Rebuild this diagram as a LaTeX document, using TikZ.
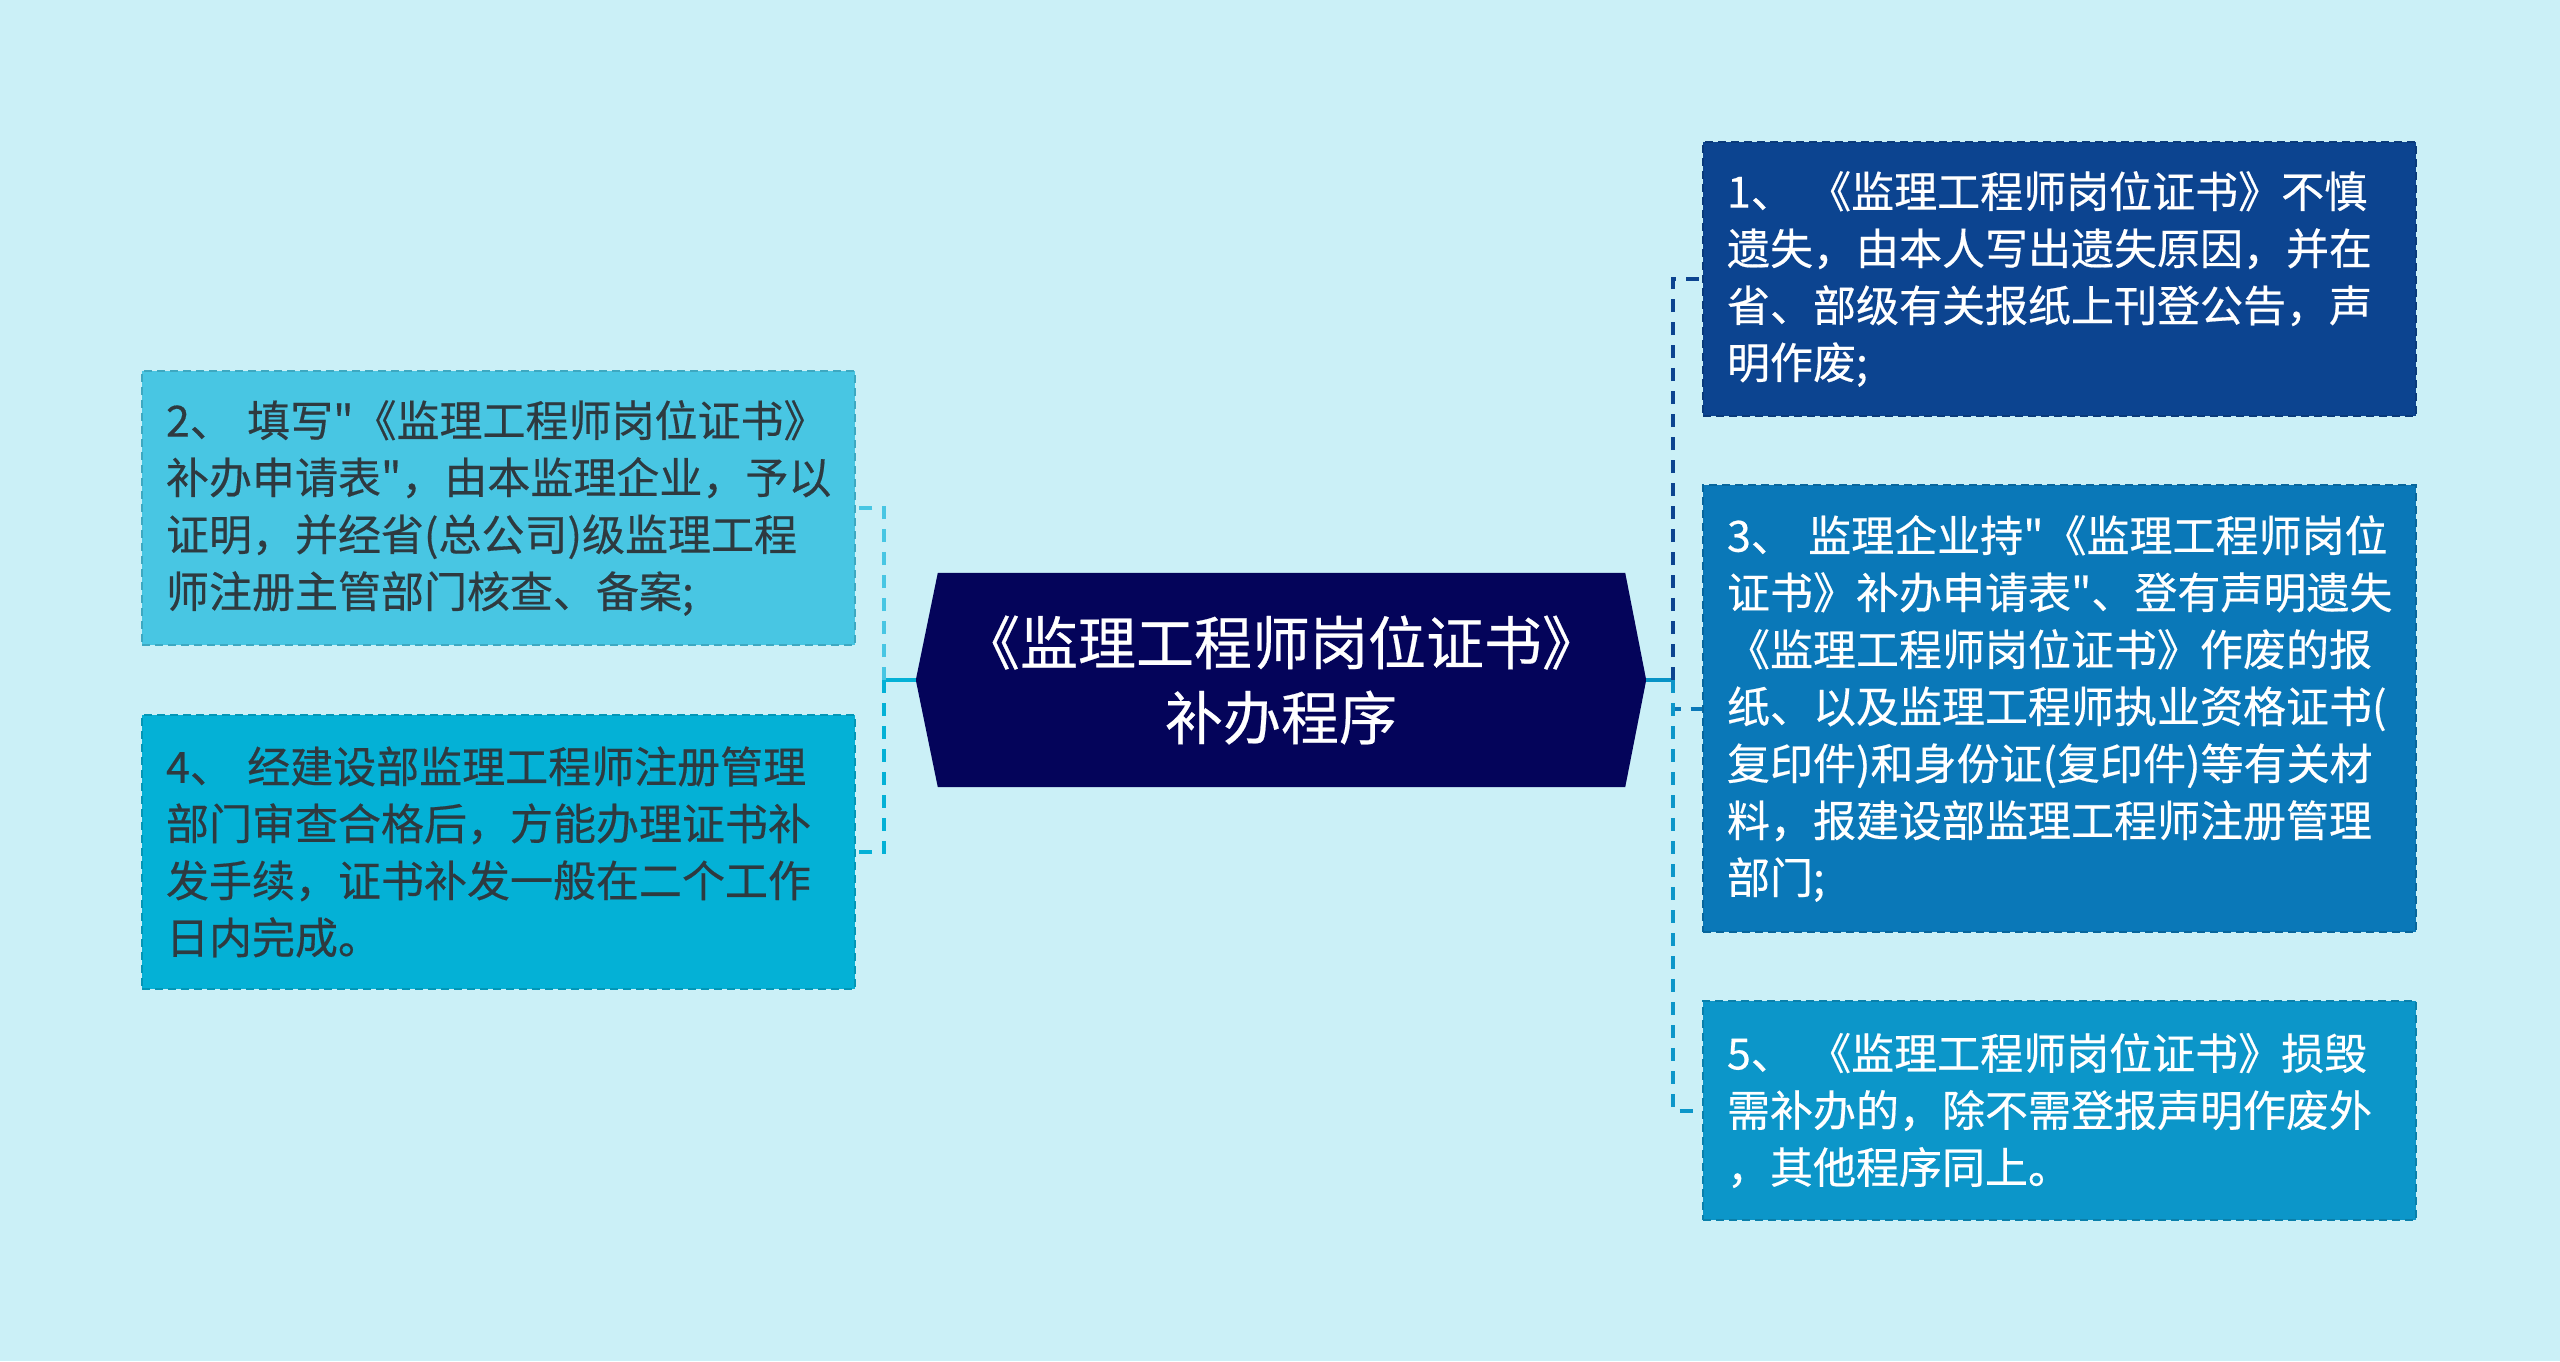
\documentclass[tikz,border=0pt]{standalone}
\usepackage{fontspec}
\newfontfamily\cjk[FakeBold=0.4]{Noto Sans CJK SC}
\definecolor{bg}{HTML}{CBF0F7}
\definecolor{hub}{HTML}{04045A}
\definecolor{cA}{HTML}{0C4490}
\definecolor{cB}{HTML}{0A78B8}
\definecolor{cC}{HTML}{0C96C9}
\definecolor{cL1}{HTML}{48C6E3}
\definecolor{cL2}{HTML}{04B1D6}
\definecolor{dtext}{HTML}{2E3A40}
\pgfdeclarelayer{bgl}
\pgfsetlayers{bgl,main}
\begin{document}
\begin{tikzpicture}[x=1pt,y=-1pt,
  box/.style={rectangle, inner xsep=24pt, inner ysep=0pt, text width=665pt,
    align=left, font=\cjk\fontsize{43}{57}\selectfont,
    dash pattern=on 8pt off 5pt, line width=2pt},
  hubtext/.style={rectangle, inner sep=0pt, minimum width=730pt, minimum height=214pt,
    align=center, text=white, font=\cjk\fontsize{58}{75}\selectfont},
  conn/.style={line width=4pt, dash pattern=on 13pt off 10pt},
  stem/.style={line width=4pt}
]
% central node
\node[hubtext] (c) at (1281,680) {《监理工程师岗位证书》\\补办程序};
\begin{pgfonlayer}{bgl}
\fill[bg] (0,0) rectangle (2560,1361);
\fill[hub] (c.west) -- ([xshift=22pt]c.north west) -- ([xshift=-21pt]c.north east)
  -- (c.east) -- ([xshift=-21pt]c.south east) -- ([xshift=22pt]c.south west) -- cycle;
\end{pgfonlayer}

% right boxes
\node[box, fill=cA, draw=cA!85!black, text=white, minimum height=274pt] (b1) at (2059.5,279)
 {1、~《监理工程师岗位证书》不慎\\遗失，由本人写出遗失原因，并在\\省、部级有关报纸上刊登公告，声\\明作废;};
\node[box, fill=cB, draw=cB!85!black, text=white, minimum height=447pt] (b3) at (2059.5,708.5)
 {3、~监理企业持"《监理工程师岗位\\证书》补办申请表"、登有声明遗失\\《监理工程师岗位证书》作废的报\\纸、以及监理工程师执业资格证书(\\复印件)和身份证(复印件)等有关材\\料，报建设部监理工程师注册管理\\部门;};
\node[box, fill=cC, draw=cC!85!black, text=white, minimum height=219pt] (b5) at (2059.5,1110.5)
 {5、~《监理工程师岗位证书》损毁\\需补办的，除不需登报声明作废外\\，其他程序同上。};

% left boxes
\node[box, fill=cL1, draw=cL1!85!black, text=dtext, minimum height=274pt] (b2) at (498.5,508)
 {2、~填写"《监理工程师岗位证书》\\补办申请表"，由本监理企业，予以\\证明，并经省(总公司)级监理工程\\师注册主管部门核查、备案;};
\node[box, fill=cL2, draw=cL2!85!black, text=dtext, minimum height=274pt] (b4) at (498.5,852)
 {4、~经建设部监理工程师注册管理\\部门审查合格后，方能办理证书补\\发手续，证书补发一般在二个工作\\日内完成。};

% connectors
\coordinate (fl) at (884,680);
\coordinate (fr) at (1673,680);
\draw[stem, cL2] (c.west) -- (fl);
\draw[stem, cB!80!cyan] (c.east) -- (fr);
\draw[conn, cL1] (fl) |- (b2.east);
\draw[conn, cL2] (fl) |- (b4.east);
\draw[conn, cA] (fr) |- (b1.west);
\draw[conn, cB] (fr) |- (b3.west);
\draw[conn, cC] (fr) |- (b5.west);
\end{tikzpicture}
\end{document}
